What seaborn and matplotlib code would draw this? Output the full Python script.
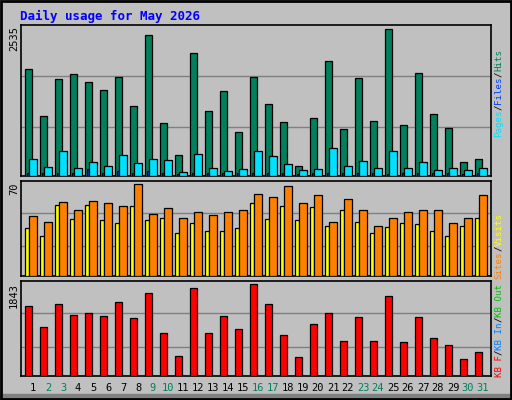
import matplotlib
matplotlib.use("Agg")
import matplotlib.pyplot as plt
import seaborn as sns
import numpy as np
import pandas as pd
from matplotlib.patches import Rectangle

days = list(range(1, 32))
hits = [1844,1031,1671,1757,1619,1481,1705,1204,2431,910,357,2120,1118,1463,755,1705,
        1239,928,167,997,1982,807,1688,945,2535,876,1774,1066,824,236,288]
files = [50,50,55,50,115,50,80,50,86,50,30,50,50,45,50,50,50,50,40,50,50,50,50,50,30,50,50,50,50,40,50]
pages = [288,150,426,133,236,167,357,219,288,271,63,374,133,81,115,426,340,202,98,115,478,167,253,133,426,133,236,98,133,98,133]
sites = [45.4,40.8,56,50,56.8,55.3,53,70,46.9,51.5,43.9,48.4,46.2,48.4,50,62.1,59.8,68.5,55.3,61.4,
         40.8,58.3,50,37.8,43.9,48.4,50,50,40,43.9,61.4]
visits = [36.3,30.2,53.8,43.1,53.8,42.4,40.1,53,42.4,43.9,32.5,40.1,34,34,36.3,55.3,43.1,53,42.4,52.2,
          37.8,50,40.8,32.5,37,40.1,39.3,34,30.2,37.8,43.9]
kbytes = [1399,995,1439,1217,1258,1197,1480,1157,1661,874,410,1762,874,1197,935,1843,1439,834,390,1036,
          1258,713,1177,713,1601,693,1177,773,632,350,491]
weekend = [2,3,9,10,16,17,23,24,30,31]
max_labels = ["2535", "70", "1843"]
title = "Daily usage for May 2026"

sns.set_style("white")
plt.rcParams['font.family'] = ['DejaVu Sans Mono']
BG = "#c0c0c0"
fig = plt.figure(figsize=(5.12, 4.0), dpi=100, facecolor=BG)
W, H = 512, 400

def mkax(top, bot):
    ax = fig.add_axes([21/W, 1-bot/H, 470/W, (bot-top)/H])
    ax.set_facecolor(BG)
    for s in ax.spines.values():
        s.set_color("black"); s.set_linewidth(1.2)
    return ax

idx = np.arange(31)

def bars(ax, vals, off, width, color):
    df = pd.DataFrame({"x": idx + off, "y": vals})
    sns.barplot(data=df, x="x", y="y", native_scale=True, width=width, color=color,
                edgecolor="black", linewidth=0.9, saturation=1, ax=ax, zorder=3)

ax1 = mkax(25, 176)
ax1.set_ylim(0, 2609)
for g in (841, 1723):
    ax1.axhline(g, color="#808080", lw=1, zorder=1)
bars(ax1, hits, -0.28, 0.48, "#00805c")
bars(ax1, files, -0.32, 0.12, "#0040ff")
bars(ax1, pages, 0.0, 0.48, "#00e0ff")

ax2 = mkax(181, 276)
ax2.set_ylim(0, 72.3)
for g in (22.6, 47.7):
    ax2.axhline(g, color="#808080", lw=1, zorder=1)
bars(ax2, visits, -0.39, 0.28, "#ffff00")
bars(ax2, sites, 0.0, 0.48, "#ff8000")

ax3 = mkax(281, 376)
ax3.set_ylim(0, 1910)
for g in (593, 1258):
    ax3.axhline(g, color="#808080", lw=1, zorder=1)
bars(ax3, kbytes, -0.28, 0.48, "#ff0000")

for a in (ax1, ax2, ax3):
    a.set_xlabel(""); a.set_ylabel("")
    a.set_xticks([]); a.set_yticks([])
    a.set_xlim(-0.8, 30.53)

def ftext(x, y, s, **kw):
    fig.text(x/W, 1-y/H, s, **kw)

ftext(20, 16, title, color="#0000ff", fontsize=9, fontweight="bold", va="center", ha="left")
for lbl, y in zip(max_labels, (26, 182, 283)):
    ftext(14, y, lbl, rotation=90, va="top", ha="center", fontsize=7.5, color="black")

for d in days:
    ftext(33 + 15*(d-1), 388, str(d), ha="center", va="center", fontsize=7.5,
          color="#00805c" if d in weekend else "black")

# right side legend labels, reading bottom to top, monospace char grid
CH = 5.47
def rlabel(y_bottom, segs):
    pos = 0
    for s, c in segs:
        yc = y_bottom - (pos + len(s) / 2) * CH
        if s.strip():
            ftext(499, yc, s, rotation=90, ha="center", va="center", fontsize=6.6, color=c)
        pos += len(s)

rlabel(137, [("Pages", "#00e0ff"), ("/", "#000000"), ("Files", "#0040ff"),
             ("/", "#000000"), ("Hits", "#00805c")])
rlabel(377, [("KB F", "#ff0000"), ("/", "#000000"), ("KB In", "#0080ff"), ("/", "#000000"),
             ("KB Out", "#00c000"), (" ", "#000000"), ("Sites", "#ff8000"), ("/", "#000000"),
             ("Visits", "#ffff00")])

# outer frame
fig.patches.append(Rectangle((0, 0), 1, 6/H, transform=fig.transFigure, color="#808080", zorder=0))
fig.patches.append(Rectangle((0.002, 0.002), 0.996, 0.996, transform=fig.transFigure,
                             fill=False, edgecolor="black", lw=2))
fig.savefig("out.png", dpi=100, facecolor=BG)
